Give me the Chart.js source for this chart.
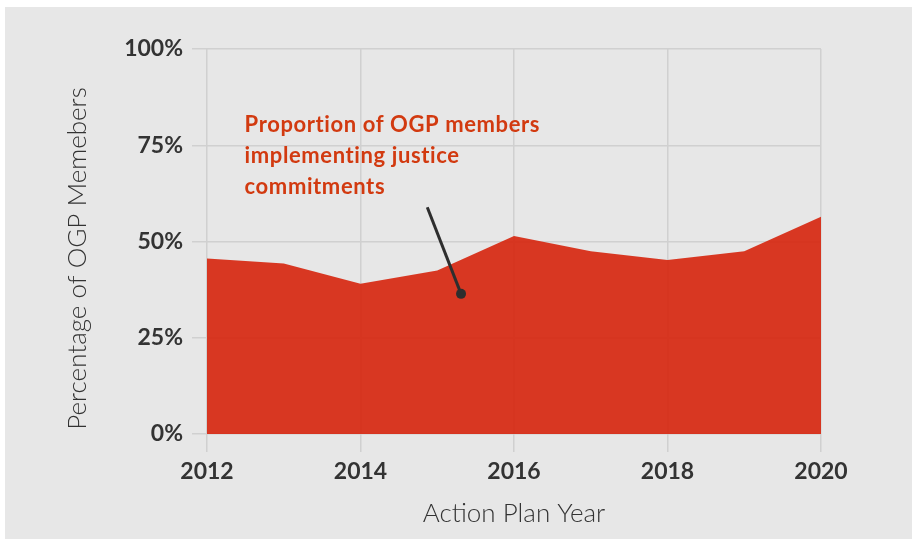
<!DOCTYPE html>
<html>
<head>
<meta charset="utf-8">
<script src="https://cdn.jsdelivr.net/npm/chart.js@4.4.1/dist/chart.umd.min.js"></script>
<style>
  html, body { margin: 0; padding: 0; background: #ffffff; }
  #panel {
    position: absolute; left: 5px; top: 7px; width: 907px; height: 532px;
    background: #e7e7e7;
  }
  canvas { display: block; }
</style>
</head>
<body>
<div id="panel"><canvas id="grafico" width="907" height="532"></canvas></div>
<script>
// Dados
const anos = [2012, 2013, 2014, 2015, 2016, 2017, 2018, 2019, 2020];
const percentuais = [45.6, 44.3, 39.0, 42.5, 51.4, 47.5, 45.2, 47.5, 56.4];
const ticksY = [0, 25, 50, 75, 100];
const ticksX = [2012, 2014, 2016, 2018, 2020];

const tituloX = "Action Plan Year";
const tituloY = "Percentage of OGP Memebers";
const textoAnotacao = ["Proportion of OGP members", "implementing justice", "commitments"];
// ponta da seta (ano, %) e inicio da linha
const pontoAnotacao = [2015.31, 36.4];
const inicioLinha = [2014.87, 58.9];
const posTexto = [2012.49, 80.2];

const fonte = "Lato, 'Open Sans', sans-serif";
const corTexto = "#333333";
const corGrade = "#d0d0d0";

// plugin simples pra anotacao e titulo do eixo Y
const extras = {
  id: "extras",
  afterDatasetsDraw(chart) {
    const ctx = chart.ctx;
    const sx = chart.scales.x, sy = chart.scales.y;

    // linha + ponto
    const x1 = sx.getPixelForValue(inicioLinha[0]), y1 = sy.getPixelForValue(inicioLinha[1]);
    const x2 = sx.getPixelForValue(pontoAnotacao[0]), y2 = sy.getPixelForValue(pontoAnotacao[1]);
    ctx.save();
    ctx.strokeStyle = "#2e2e2e";
    ctx.lineWidth = 3;
    ctx.beginPath();
    ctx.moveTo(x1, y1);
    ctx.lineTo(x2, y2);
    ctx.stroke();
    ctx.fillStyle = "#2e2e2e";
    ctx.beginPath();
    ctx.arc(x2, y2, 5, 0, Math.PI * 2);
    ctx.fill();

    // texto da anotacao
    ctx.fillStyle = "#d23a10";
    ctx.font = "700 22px " + fonte;
    ctx.letterSpacing = "0.6px";
    ctx.textAlign = "left";
    ctx.textBaseline = "middle";
    const tx = sx.getPixelForValue(posTexto[0]);
    const ty = sy.getPixelForValue(posTexto[1]);
    textoAnotacao.forEach((linha, i) => ctx.fillText(linha, tx, ty + i * 31));
    ctx.letterSpacing = "0px";

    // titulo do eixo Y
    ctx.fillStyle = corTexto;
    ctx.font = "300 26px " + fonte;
    ctx.textAlign = "center";
    ctx.translate(73, 251.5);
    ctx.rotate(-Math.PI / 2);
    ctx.fillText(tituloY, 0, 0);
    ctx.restore();
  }
};

const ctx = document.getElementById("grafico").getContext("2d");
new Chart(ctx, {
  type: "line",
  data: {
    datasets: [{
      data: anos.map((a, i) => ({ x: a, y: percentuais[i] })),
      borderWidth: 0,
      borderColor: "rgba(0,0,0,0)",
      backgroundColor: "rgba(214,36,12,0.9)",
      fill: "origin",
      pointRadius: 0,
      tension: 0
    }]
  },
  options: {
    responsive: false,
    animation: false,
    layout: { padding: { left: 0, right: 91, top: 42, bottom: 0 } },
    plugins: {
      legend: { display: false },
      tooltip: { enabled: false }
    },
    scales: {
      x: {
        type: "linear",
        min: 2012,
        max: 2020,
        afterFit: s => { s.height = 105; },
        afterBuildTicks: s => { s.ticks = ticksX.map(v => ({ value: v })); },
        border: { display: false },
        grid: { color: corGrade, lineWidth: 1.5, tickLength: 18 },
        ticks: {
          padding: 6,
          color: corTexto,
          font: { family: fonte, size: 23, weight: "700" },
          callback: v => String(v)
        },
        title: {
          display: true,
          text: tituloX,
          color: corTexto,
          font: { family: fonte, size: 26, weight: "300" },
          padding: { top: 0, bottom: 10 }
        }
      },
      y: {
        min: 0,
        max: 100,
        afterFit: s => { s.width = 202; },
        afterBuildTicks: s => { s.ticks = ticksY.map(v => ({ value: v })); },
        border: { display: false },
        grid: { color: corGrade, lineWidth: 1.5, tickLength: 15 },
        ticks: {
          padding: 9,
          color: corTexto,
          font: { family: fonte, size: 23, weight: "700" },
          callback: v => v + "%"
        }
      }
    }
  },
  plugins: [extras]
});
</script>
</body>
</html>
